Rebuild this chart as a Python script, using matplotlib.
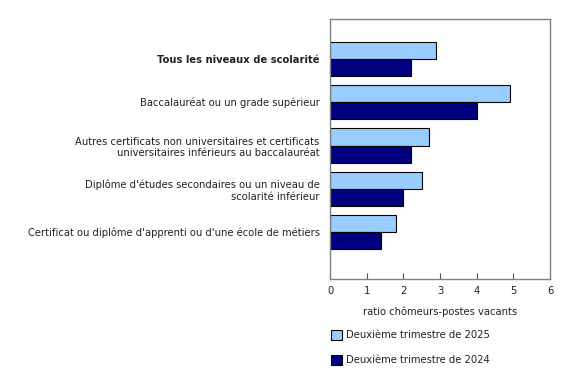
import matplotlib
matplotlib.use("Agg")
import matplotlib.pyplot as plt
import numpy as np
from matplotlib.patches import Patch

categories = [
    "Tous les niveaux de scolarité",
    "Baccalauréat ou un grade supérieur",
    "Autres certificats non universitaires et certificats\nuniversitaires inférieurs au baccalauréat",
    "Diplôme d'études secondaires ou un niveau de\nscolarité inférieur",
    "Certificat ou diplôme d'apprenti ou d'une école de métiers",
]
series_2025 = [2.9, 4.9, 2.7, 2.5, 1.8]
series_2024 = [2.2, 4.0, 2.2, 2.0, 1.4]
label_2025 = "Deuxième trimestre de 2025"
label_2024 = "Deuxième trimestre de 2024"
xlabel = "ratio chômeurs-postes vacants"
xticks = [0, 1, 2, 3, 4, 5, 6]

plt.rcParams['font.family'] = ['DejaVu Sans']
fig = plt.figure(figsize=(5.8, 3.7), dpi=100)
ax = fig.add_axes([330/580, 1-279/370, 220/580, 260/370])

fs = 7.2
c25 = "#99CCFF"
c24 = "#000080"
y = np.arange(len(categories))
h = 0.395
ax.barh(y - h/2, series_2025, height=h, color=c25, edgecolor="black", linewidth=0.8)
ax.barh(y + h/2, series_2024, height=h, color=c24, edgecolor="black", linewidth=0.8)

ax.set_ylim(len(categories) - 1 + 1.08, -0.92)
ax.set_xlim(0, 6)
ax.set_yticks(y)
ax.set_yticklabels(categories, fontsize=fs, color="#222222")
ax.get_yticklabels()[0].set_fontweight("bold")
ax.tick_params(axis="y", length=0, pad=7.5)
ax.set_xticks(xticks)
ax.set_xticklabels([str(t) for t in xticks], fontsize=fs, color="#222222")
ax.tick_params(axis="x", direction="in", length=4, color="#555555", pad=5)
ax.set_xlabel(xlabel, fontsize=fs, color="#222222", labelpad=7.5)
for s in ax.spines.values():
    s.set_color("#808080")
    s.set_linewidth(1.0)

handles = [Patch(facecolor=c25, edgecolor="black", linewidth=0.8),
           Patch(facecolor=c24, edgecolor="black", linewidth=0.8)]
fig.legend(handles, [label_2025, label_2024], loc="upper left",
           bbox_to_anchor=(322/580, 1-321/370), frameon=False, fontsize=fs,
           handlelength=1.1, handleheight=1.1, handletextpad=0.35,
           labelspacing=1.5, labelcolor="#222222")

fig.savefig("out.png", dpi=100)
